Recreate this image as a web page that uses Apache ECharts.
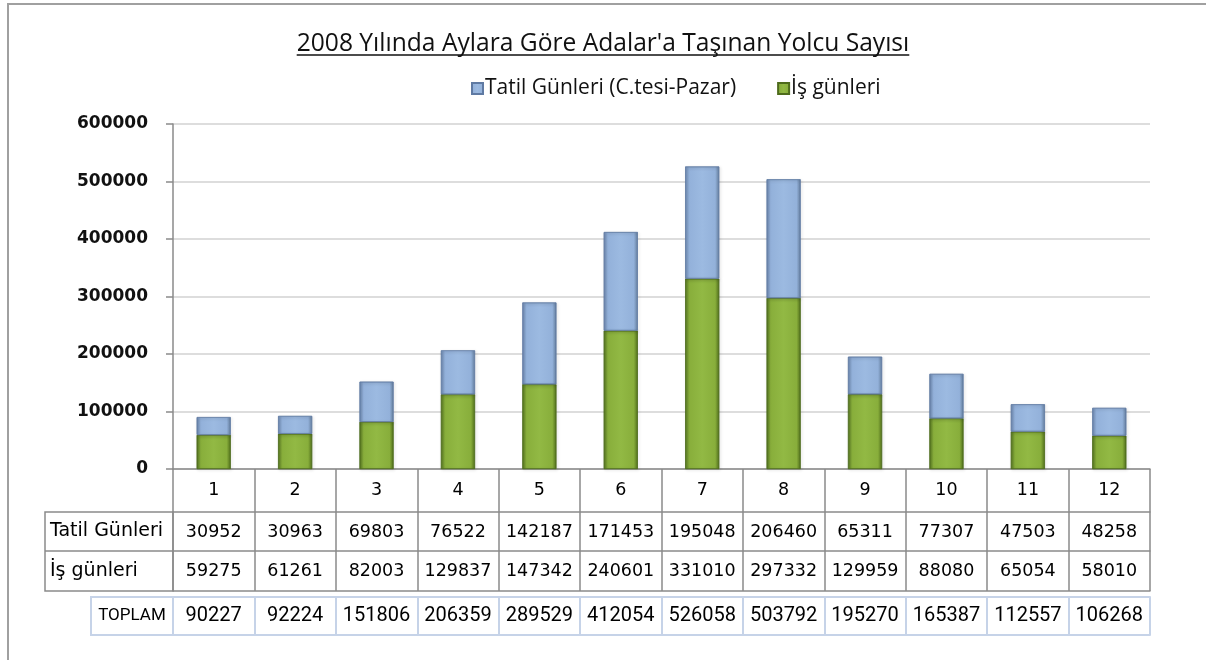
<!DOCTYPE html>
<html>
<head>
<meta charset="utf-8">
<title>2008 Adalar Yolcu Sayısı</title>
<script src="https://cdn.jsdelivr.net/npm/echarts@6/dist/echarts.min.js"></script>
<style>
  html, body { margin: 0; padding: 0; background: #fff; }
  #chart { width: 1206px; height: 660px; }
</style>
</head>
<body>
<div id="chart"></div>
<script>
// veriler
const aylar = ['1', '2', '3', '4', '5', '6', '7', '8', '9', '10', '11', '12'];
const tatilGunleri = [30952, 30963, 69803, 76522, 142187, 171453, 195048, 206460, 65311, 77307, 47503, 48258];
const isGunleri = [59275, 61261, 82003, 129837, 147342, 240601, 331010, 297332, 129959, 88080, 65054, 58010];
const toplam = [90227, 92224, 151806, 206359, 289529, 412054, 526058, 503792, 195270, 165387, 112557, 106268];
const yEksen = { min: 0, max: 600000, interval: 100000 };

const baslik = "2008 Yılında Aylara Göre Adalar'a Taşınan Yolcu Sayısı";
const tatilAdi = 'Tatil Günleri (C.tesi-Pazar)';
const isAdi = 'İş günleri';
const satirAdlari = ['Tatil Günleri', 'İş günleri'];

// yerleşim
const W = 1206, H = 660;
const gridLeft = 173, gridRight = 1150, gridTop = 124, gridBottom = 469;
const rowH = [43, 39, 40];       // başlık, tatil, iş satırları
const toplamTop = 597, toplamH = 38;
const tabloSol = 45, toplamSol = 91;
const cizgi = '#8a8a8a';
const acikMavi = '#c6d3e8';
const tabloFont = 'DejaVu Sans';
const darFont = 'Roboto';
const baslikFont = 'Open Sans';

const chart = echarts.init(document.getElementById('chart'), null, { renderer: 'canvas' });

const grad = (stops) => new echarts.graphic.LinearGradient(0, 0, 1, 0,
    stops.map(([o, c]) => ({ offset: o, color: c })));

const maviDolgu = grad([[0, '#6f8ab2'], [0.12, '#93b1da'], [0.5, '#9cbae1'], [0.88, '#93b1da'], [1, '#66809f']]);
const yesilDolgu = grad([[0, '#587822'], [0.12, '#88ae3b'], [0.5, '#92b944'], [0.88, '#88ae3b'], [1, '#53711d']]);

const row1 = gridBottom + rowH[0];
const row2 = row1 + rowH[1];
const row3 = row2 + rowH[2];

const tabloEkseni = (offset, labels, opts = {}) => ({
    type: 'category',
    gridIndex: 0,
    position: 'bottom',
    offset: offset,
    data: aylar,
    axisLine: { show: true, lineStyle: { color: opts.color || cizgi, width: opts.width || 1.5 } },
    axisTick: {
        show: opts.tick !== false,
        interval: 0,
        length: opts.tickLen || 40,
        lineStyle: { color: opts.color || cizgi, width: opts.width || 1.5 }
    },
    axisLabel: {
        show: !!labels,
        interval: 0,
        margin: opts.margin || 20,
        verticalAlign: 'middle',
        fontFamily: opts.font || tabloFont,
        fontSize: opts.fontSize || 17.5,
        color: '#000',
        formatter: (v, i) => labels ? String(labels[i]) : ''
    },
    splitLine: { show: false }
});

const option = {
    backgroundColor: '#fff',
    animation: false,
    title: {
        text: baslik,
        left: 'center',
        top: 26,
        textStyle: {
            fontFamily: baslikFont,
            fontSize: 24.6,
            fontWeight: 'normal',
            color: '#111'
        }
    },
    legend: {
        data: [tatilAdi, isAdi],
        top: 73,
        left: 466,
        itemWidth: 11,
        itemHeight: 11,
        itemGap: 41,
        icon: 'rect',
        textStyle: {
            fontFamily: baslikFont,
            fontSize: 21,
            color: '#111',
            padding: [0, 0, 0, -3]
        }
    },
    grid: {
        left: gridLeft,
        right: W - gridRight,
        top: gridTop,
        bottom: H - gridBottom,
        containLabel: false
    },
    xAxis: [
        tabloEkseni(0, aylar, { tickLen: rowH[0], margin: 21 }),
        tabloEkseni(rowH[0], tatilGunleri, { tickLen: rowH[1] }),
        tabloEkseni(rowH[0] + rowH[1], isGunleri, { tickLen: rowH[2] }),
        tabloEkseni(row3 - gridBottom, null, { tick: false }),
        tabloEkseni(toplamTop - gridBottom, toplam, {
            tickLen: toplamH, color: acikMavi, width: 2, margin: 19,
            font: darFont, fontSize: 20
        }),
        tabloEkseni(toplamTop + toplamH - gridBottom, null, { tick: false, color: acikMavi, width: 2 })
    ],
    yAxis: {
        type: 'value',
        min: yEksen.min,
        max: yEksen.max,
        interval: yEksen.interval,
        axisLine: { show: true, lineStyle: { color: cizgi, width: 1.5 } },
        axisTick: { show: true, length: 7, lineStyle: { color: cizgi, width: 1.5 } },
        axisLabel: {
            margin: 25,
            fontFamily: tabloFont,
            fontSize: 17,
            fontWeight: 'bold',
            color: '#111',
            formatter: (v) => String(v)
        },
        splitLine: { lineStyle: { color: '#d2d2d2', width: 1.5 } }
    },
    series: [
        {
            name: isAdi,
            type: 'bar',
            stack: 'toplam',
            barWidth: 34,
            data: isGunleri,
            itemStyle: {
                color: yesilDolgu, borderColor: '#4e6b1c', borderWidth: 0.6,
                shadowBlur: 3, shadowColor: 'rgba(0,0,0,0.25)', shadowOffsetX: 1, shadowOffsetY: 1
            }
        },
        {
            name: tatilAdi,
            type: 'bar',
            stack: 'toplam',
            barWidth: 34,
            data: tatilGunleri,
            itemStyle: {
                color: maviDolgu, borderColor: '#5f7aa3', borderWidth: 0.6,
                shadowBlur: 3, shadowColor: 'rgba(0,0,0,0.25)', shadowOffsetX: 1, shadowOffsetY: 1
            }
        }
    ],
    graphic: []
};

chart.setOption(option);

// başlık altı çizgisi, çerçeve ve tablo satır başlıkları
const olcu = document.createElement('canvas').getContext('2d');
olcu.font = '24.6px "' + baslikFont + '"';
const baslikW = olcu.measureText(baslik).width;

const g = [];
g.push({
    type: 'rect', silent: true,
    shape: { x: 8, y: 4, width: W, height: H },
    style: { fill: 'none', stroke: '#a0a0a0', lineWidth: 2 }
});
g.push({
    type: 'line', silent: true,
    shape: { x1: W / 2 - baslikW / 2, y1: 55, x2: W / 2 + baslikW / 2, y2: 55 },
    style: { stroke: '#111', lineWidth: 1.3 }
});
// sol sütun (satır başlıkları)
g.push({
    type: 'rect', silent: true,
    shape: { x: tabloSol, y: row1, width: gridLeft - tabloSol, height: row3 - row1 },
    style: { fill: 'none', stroke: cizgi, lineWidth: 1.5 }
});
g.push({
    type: 'line', silent: true,
    shape: { x1: tabloSol, y1: row2, x2: gridLeft, y2: row2 },
    style: { stroke: cizgi, lineWidth: 1.5 }
});
[row1, row2].forEach((y, i) => {
    g.push({
        type: 'text', silent: true,
        x: tabloSol + 5, y: y + rowH[i + 1] / 2,
        style: {
            text: satirAdlari[i], fontFamily: tabloFont, fontSize: 19,
            fill: '#000', verticalAlign: 'middle', align: 'left'
        }
    });
});
g.push({
    type: 'rect', silent: true,
    shape: { x: toplamSol, y: toplamTop, width: gridLeft - toplamSol, height: toplamH },
    style: { fill: 'none', stroke: acikMavi, lineWidth: 2 }
});
g.push({
    type: 'text', silent: true,
    x: (toplamSol + gridLeft) / 2, y: toplamTop + toplamH / 2,
    style: {
        text: 'TOPLAM', fontFamily: darFont, fontSize: 17,
        fill: '#000', verticalAlign: 'middle', align: 'center'
    }
});

chart.setOption({ graphic: g });
</script>
</body>
</html>
